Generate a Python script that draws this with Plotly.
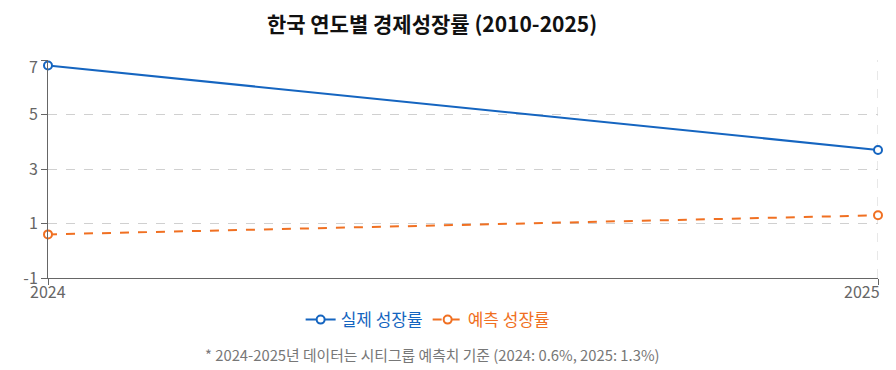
import plotly.graph_objects as go

years = [2024, 2025]
actual = [6.8, 3.7]
forecast = [0.6, 1.3]
y_ticks = [-1, 1, 3, 5, 7]

BLUE = "#1565C0"
ORANGE = "#F07022"
FONT = "Noto Sans CJK KR, Noto Sans, sans-serif"
TICK = "#666666"

fig = go.Figure()
fig.add_trace(go.Scatter(
    x=years, y=actual, mode="lines+markers",
    name=f"<span style='color:{BLUE}'>실제 성장률</span>",
    line=dict(color=BLUE, width=2),
    marker=dict(size=8, color="white", line=dict(color=BLUE, width=2)),
    cliponaxis=False,
))
fig.add_trace(go.Scatter(
    x=years, y=forecast, mode="lines+markers",
    name=f"<span style='color:{ORANGE}'>예측 성장률</span>",
    line=dict(color=ORANGE, width=2, dash="dash"),
    marker=dict(size=8, color="white", line=dict(color=ORANGE, width=2)),
    cliponaxis=False,
))

fig.update_layout(
    width=888, height=362,
    margin=dict(l=40, r=18, t=52, b=92, autoexpand=False),
    paper_bgcolor="white", plot_bgcolor="white",
    font=dict(family=FONT, color=TICK, size=14),
    title=dict(text="<b>한국 연도별 경제성장률 (2010-2025)</b>",
               x=0.4775, xref="container", xanchor="center",
               y=0.953, yref="container", yanchor="middle",
               font=dict(size=21, color="#111111", family=FONT)),
    legend=dict(orientation="h", x=0.458, xref="paper", xanchor="center",
                y=-0.193, yref="paper", yanchor="middle",
                font=dict(size=17), itemwidth=30, tracegroupgap=0),
    showlegend=True,
)
fig.update_xaxes(
    range=[2024, 2025], tickvals=years, ticktext=["", ""],
    showline=True, linecolor=TICK, linewidth=1, automargin=False,
    ticks="outside", ticklen=6, tickcolor=TICK,
    showgrid=True, gridcolor="#d0d0d0", griddash="dash", gridwidth=1,
    zeroline=False, tickfont=dict(size=16, color=TICK),
)
fig.update_yaxes(
    range=[-1, 7], tickvals=y_ticks, ticktext=["-1", "1", "3", "5", ""],
    showline=True, linecolor=TICK, linewidth=1, automargin=False,
    ticks="outside", ticklen=6, tickcolor=TICK,
    showgrid=True, gridcolor="#d0d0d0", griddash="dash", gridwidth=1,
    zeroline=False, tickfont=dict(size=16, color=TICK),
)
# right border dashed grid line at last year
fig.add_shape(type="line", xref="x", yref="paper", x0=years[-1], x1=years[-1], y0=0, y1=1,
              line=dict(color="#d0d0d0", width=1, dash="dash"), layer="below")
fig.add_annotation(text=str(y_ticks[-1]), xref="paper", yref="paper", x=0, y=1,
                   xanchor="right", yanchor="middle", xshift=-8, yshift=-6,
                   showarrow=False, font=dict(size=16, color=TICK))
fig.add_annotation(text=str(years[0]), xref="x", yref="paper", x=years[0], y=0,
                   xanchor="center", yanchor="middle", yshift=-13,
                   showarrow=False, font=dict(size=16, color=TICK))
fig.add_annotation(text=str(years[-1]), xref="x", yref="paper", x=years[-1], y=0,
                   xanchor="right", yanchor="middle", xshift=4, yshift=-13,
                   showarrow=False, font=dict(size=16, color=TICK))
fig.add_annotation(text="* 2024-2025년 데이터는 시티그룹 예측치 기준 (2024: 0.6%, 2025: 1.3%)",
                   xref="paper", yref="paper", x=0.4627, y=-0.353,
                   xanchor="center", yanchor="middle", showarrow=False,
                   font=dict(size=14.8, color="#777777"))

fig.write_html("out.html")
